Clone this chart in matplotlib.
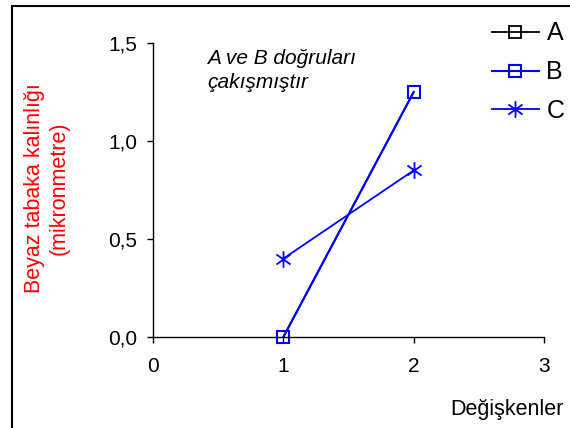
import matplotlib.pyplot as plt
from matplotlib.path import Path
from matplotlib.patches import Rectangle

plt.rcParams['font.family'] = ['Liberation Sans', 'DejaVu Sans']

# Data
x_vals = [1, 2]
a_vals = [0.0, 1.25]
b_vals = [0.0, 1.25]
c_vals = [0.40, 0.85]
series_labels = ['A', 'B', 'C']
x_ticks = [0, 1, 2, 3]
y_ticks = [0.0, 0.5, 1.0, 1.5]
y_tick_labels = ['0,0', '0,5', '1,0', '1,5']

# asterisk marker: vertical bar + two diagonals
star = Path([(0, -1), (0, 1), (-0.85, -0.6), (0.85, 0.6), (-0.85, 0.6), (0.85, -0.6)],
            [Path.MOVETO, Path.LINETO, Path.MOVETO, Path.LINETO, Path.MOVETO, Path.LINETO])

fig = plt.figure(figsize=(5.7, 4.28), dpi=100)
ax = fig.add_axes([153 / 570, 1 - 337 / 428, (544 - 153) / 570, (337 - 43) / 428])

ax.plot(x_vals, a_vals, color='black', lw=1.3, marker='s', ms=9, mfc='none',
        mec='black', mew=1.3, label=series_labels[0], clip_on=False)
ax.plot(x_vals, b_vals, color='#0000ff', lw=1.5, marker='s', ms=9, mfc='none',
        mec='#0000ff', mew=1.5, label=series_labels[1], clip_on=False)
ax.plot(x_vals, c_vals, color='#0000ff', lw=1.3, marker=star, ms=12, mfc='none',
        mec='#0000ff', mew=1.3, label=series_labels[2], clip_on=False)

ax.set_xlim(0, 3)
ax.set_ylim(0, 1.5)
ax.set_xticks(x_ticks)
ax.set_yticks(y_ticks)
ax.set_yticklabels(y_tick_labels)
ax.tick_params(direction='out', length=4.5, width=1, labelsize=15)
ax.tick_params(axis='x', pad=10)
ax.tick_params(axis='y', pad=7)
for s in ['top', 'right']:
    ax.spines[s].set_visible(False)
for s in ['left', 'bottom']:
    ax.spines[s].set_linewidth(1)

fig.text(47 / 570, 1 - 188 / 428, 'Beyaz tabaka kalınlığı\n(mikronmetre)', color='red',
         rotation=90, ha='center', va='center', fontsize=15.5, linespacing=1.25)
fig.text(564 / 570, 1 - 410 / 428, 'Değişkenler', ha='right', va='center', fontsize=15.5)
ax.text(207 / 570, 1 - 49 / 428, 'A ve B doğruları\nçakışmıştır', transform=fig.transFigure,
        ha='left', va='top', fontsize=15, style='italic', linespacing=1.3)

fig.legend(loc='upper right', bbox_to_anchor=(577 / 570, 1 - 9 / 428), frameon=False,
           fontsize=18, handlelength=1.9, handletextpad=0.3, labelspacing=0.59,
           borderpad=0)

fig.patches.append(Rectangle((12 / 570, -0.05), 1.1, 1 - 6 / 428 + 0.05,
                             transform=fig.transFigure, fill=False, lw=1.5,
                             edgecolor='black', clip_on=False))

fig.savefig('out.png', dpi=100)
